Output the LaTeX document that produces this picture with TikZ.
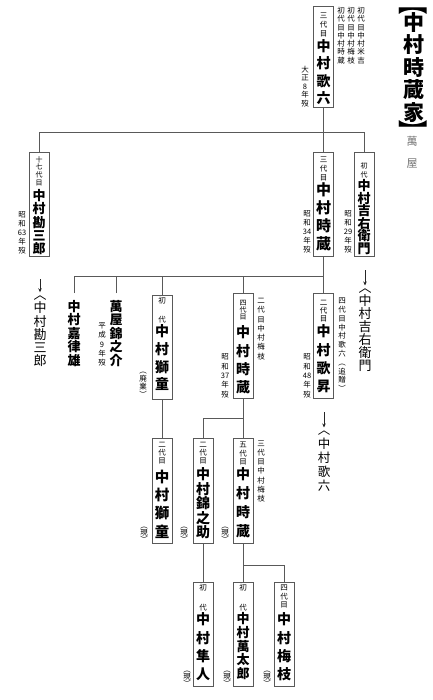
\documentclass[tikz,border=0pt]{standalone}
\usepackage{fontspec}
\usepackage{graphicx}
\setmainfont{Noto Sans CJK JP}
\usetikzlibrary{calc,arrows.meta}

\ExplSyntaxOn
\bool_new:N \l_vs_first_bool
\NewDocumentCommand\vs{O{20pt} m m m}
  {
    \vbox
      {
        \offinterlineskip
        \bool_set_true:N \l_vs_first_bool
        \tl_map_inline:nn {#4}
          {
            \bool_if:NTF \l_vs_first_bool
              { \bool_set_false:N \l_vs_first_bool }
              { \vskip \dim_eval:n { #3pt - #2pt } }
            \hbox to #1 { \hss \fontsize{#2}{#2}\selectfont \vrule~height~.88em~depth~.12em~width~0pt ##1 \hss }
          }
      }
  }
\ExplSyntaxOff

\newcommand\brk[1]{\hbox to 28pt{\hss\fontsize{21}{21}\selectfont\vrule height .88em depth .12em width 0pt\scalebox{1.4}[1]{#1}\hss}}

\tikzset{
  bx/.style={draw=black!65, line width=.6pt, inner sep=0pt, outer sep=0pt, anchor=north},
  nt/.style={inner sep=0pt, outer sep=0pt, anchor=north},
  ln/.style={draw=black!65, line width=.6pt},
  arr/.style={draw=black!85, line width=.7pt, -{Stealth[length=4pt,width=3.5pt]}, shorten >=-4pt}
}

\begin{document}
\begin{tikzpicture}[x=1pt,y=-1pt]
\fill[white] (0,0) rectangle (432,700);
\useasboundingbox (0,0) rectangle (432,700);

% title
\node[nt] (title) at (413.5,-5.5) {\bfseries\vbox{\offinterlineskip\brk{︻}\vskip-3.5pt\vs[28pt]{21}{22.5}{中村時蔵家}\vskip-3pt\brk{︼}}};
\node[nt, text=black!55] (yaya) at (412,136) {\vs[14pt]{11}{22}{萬屋}};

% generation 1
\node[bx] (A) at (323.5,6) {\vbox to 101pt{\offinterlineskip\vskip6pt\vs{7.5}{9}{三代目}\vskip1.5pt{\bfseries\vs{14}{17.5}{中村歌六}}\vss}};
\node[nt] (A1) at (305,66) {\vs[10pt]{7.5}{8.4}{大正8年歿}};
\node[nt] (A2) at (361,7) {\vs[10pt]{7.5}{8.25}{初代目中村米吉}};
\node[nt] (A3) at (351,7) {\vs[10pt]{7.5}{8.25}{初代目中村梅枝}};
\node[nt] (A4) at (341,7) {\vs[10pt]{7.5}{8.25}{初代目中村時蔵}};

% generation 2
\node[bx] (B) at (39,152) {\vbox to 104pt{\offinterlineskip\vskip4pt\vs{7}{7.7}{十七代目}\vskip3pt{\bfseries\vs{13}{13.3}{中村勘三郎}}\vss}};
\node[nt] (B1) at (22,211) {\vs[10pt]{7.5}{9.1}{昭和{63}年歿}};
\node[bx] (C) at (323.5,152) {\vbox to 104pt{\offinterlineskip\vskip4pt\vs{7.5}{9}{三代目}\vskip1pt{\bfseries\vs{15}{18}{中村時蔵}}\vss}};
\node[nt] (C1) at (307,210) {\vs[10pt]{7.5}{9.1}{昭和{34}年歿}};
\node[bx] (D) at (364,152) {\vbox to 104pt{\offinterlineskip\vskip10pt\vs{7}{9.5}{初代}\vskip1pt{\bfseries\vs{13}{12.5}{中村吉右衛門}}\vss}};
\node[nt] (D1) at (348,210) {\vs[10pt]{7.5}{9.1}{昭和{29}年歿}};

% generation 3
\node[nt] (kt) at (40,288.3) {\vs[14pt]{13}{13.2}{︿中村勘三郎}};
\coordinate (kta) at (40,279);
\node[nt, outer sep=7pt] (kr) at (74,293) {\bfseries\vs[14pt]{13}{13.5}{中村嘉律雄}};
\node[nt, outer sep=7pt] (kin) at (116,293) {\bfseries\vs[14pt]{13}{13.5}{萬屋錦之介}};
\node[nt] (kin1) at (102,322) {\vs[10pt]{7.5}{9.3}{平成9年歿}};
\node[bx] (E) at (162,295) {\vbox to 104pt{\offinterlineskip\vskip2pt\vs{7.5}{19}{初代}\vskip1pt{\bfseries\vs{14}{17.7}{中村獅童}}\vss}};
\node[nt] (E1) at (143,367) {\vs[10pt]{7.5}{8}{︵廃業︶}};
\node[bx] (F) at (243,293) {\vbox to 105pt{\offinterlineskip\vskip6pt\vs{7}{7}{四代目}\vskip5.5pt{\bfseries\vs{14}{18.3}{中村時蔵}}\vss}};
\node[nt] (F1) at (261,297) {\vs[10pt]{7.5}{9.25}{二代目中村梅枝}};
\node[nt] (F2) at (225,353) {\vs[10pt]{7.5}{9.4}{昭和{37}年歿}};
\node[bx] (G) at (323.5,293) {\vbox to 105pt{\offinterlineskip\vskip6pt\vs{7.5}{8}{二代目}\vskip2pt{\bfseries\vs{14}{18.3}{中村歌昇}}\vss}};
\node[nt] (G1) at (342,297) {\vs[10pt]{7.5}{8.8}{四代目中村歌六︵追贈︶}};
\node[nt] (G2) at (307,353) {\vs[10pt]{7.5}{9.4}{昭和{48}年歿}};
\node[nt] (yt) at (365,281.5) {\vs[14pt]{13}{13}{︿中村吉右衛門}};
\coordinate (yta) at (365,270);

% generation 4
\node[bx] (H) at (162,438) {\vbox to 105pt{\offinterlineskip\vskip2.5pt\vs{7.5}{8}{二代目}\vskip5.5pt{\bfseries\vs{14.5}{18.3}{中村獅童}}\vss}};
\node[nt] (H1) at (144,522) {\vs[10pt]{7.5}{7}{︵現︶}};
\node[bx] (I) at (203,438) {\vbox to 105pt{\offinterlineskip\vskip2.5pt\vs{7.5}{8}{二代目}\vskip3.5pt{\bfseries\vs{14}{14.5}{中村錦之助}}\vss}};
\node[nt] (I1) at (184,522) {\vs[10pt]{7.5}{7}{︵現︶}};
\node[bx] (J) at (243,438) {\vbox to 105pt{\offinterlineskip\vskip3pt\vs{7.5}{8.5}{五代目}\vskip2pt{\bfseries\vs{14}{19}{中村時蔵}}\vss}};
\node[nt] (J1) at (261,440) {\vs[10pt]{7.5}{9.1}{三代目中村梅枝}};
\node[nt] (J2) at (225,522) {\vs[10pt]{7.5}{7}{︵現︶}};
\node[nt] (ut) at (324,423.5) {\vs[14pt]{12.5}{14}{︿中村歌六}};
\coordinate (uta) at (324,412);

% generation 5
\node[bx] (K) at (203,582) {\vbox to 104pt{\offinterlineskip\vskip2pt\vs{7.5}{20}{初代}\vskip1pt{\bfseries\vs{14}{18.3}{中村隼人}}\vss}};
\node[nt] (K1) at (187,666) {\vs[10pt]{7.5}{7}{︵現︶}};
\node[bx] (L) at (243,582) {\vbox to 104pt{\offinterlineskip\vskip2pt\vs{7.5}{20}{初代}\vskip1pt{\bfseries\vs{13}{13.6}{中村萬太郎}}\vss}};
\node[nt] (L1) at (227,666) {\vs[10pt]{7.5}{7}{︵現︶}};
\node[bx] (M) at (284,582) {\vbox to 104pt{\offinterlineskip\vskip2pt\vs{7.5}{8.5}{四代目}\vskip4pt{\bfseries\vs{14}{18.3}{中村梅枝}}\vss}};
\node[nt] (M1) at (267,666) {\vs[10pt]{7.5}{7}{︵現︶}};

% connectors
\coordinate (h1) at (0,132);
\draw[ln] (A.south) -- (C.north);
\draw[ln] (B.north) -- (B.north |- h1) -- (D.north |- h1) -- (D.north);
\coordinate (h2) at (0,276);
\draw[ln] (C.south) -- (G.north);
\draw[ln] (kr.north) -- (kr.north |- h2) -- (C.south |- h2);
\draw[ln] (kin.north) -- (kin.north |- h2);
\draw[ln] (E.north) -- (E.north |- h2);
\draw[ln] (F.north) -- (F.north |- h2);
\coordinate (h3) at (0,418);
\draw[ln] (F.south) -- (J.north);
\draw[ln] (I.north) -- (I.north |- h3) -- (F.south |- h3);
\draw[ln] (E.south) -- (H.north);
\draw[ln] (I.south) -- (K.north);
\draw[ln] (J.south) -- (L.north);
\coordinate (h4) at (0,565);
\draw[ln] (M.north) -- (M.north |- h4) -- (J.south |- h4);

\draw[arr] (kta) -- (kt.north);
\draw[arr] (yta) -- (yt.north);
\draw[arr] (uta) -- (ut.north);
\end{tikzpicture}
\end{document}
